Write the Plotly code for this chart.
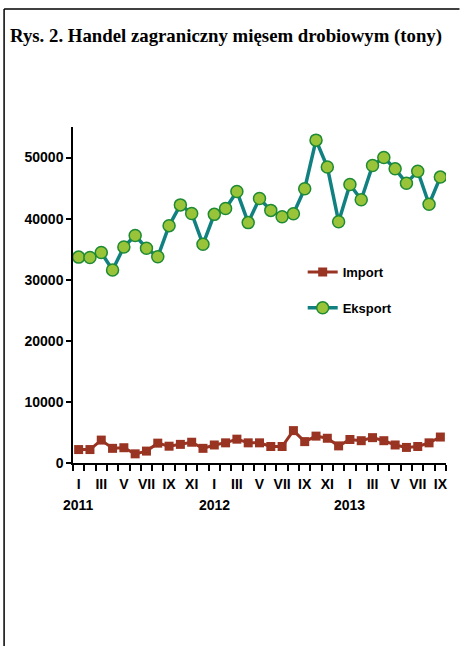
import plotly.graph_objects as go

months = ["I", "II", "III", "IV", "V", "VI", "VII", "VIII", "IX", "X", "XI", "XII"] * 2 + \
         ["I", "II", "III", "IV", "V", "VI", "VII", "VIII", "IX"]
years = ["2011", "2012", "2013"]
year_start_index = [0, 12, 24]

import_t = [2200, 2200, 3750, 2400, 2500, 1500, 1950, 3250, 2750, 3050, 3400, 2400,
            2950, 3300, 3900, 3300, 3300, 2700, 2700, 5300, 3500, 4400, 4050, 2800,
            3850, 3650, 4150, 3650, 2950, 2550, 2700, 3300, 4250]
export_t = [33700, 33650, 34450, 31600, 35350, 37250, 35150, 33750, 38850, 42250, 40850, 35800,
            40700, 41650, 44450, 39350, 43300, 41350, 40300, 40800, 44900, 52850, 48450, 39500,
            45600, 43100, 48700, 50000, 48150, 45800, 47750, 42350, 46800]

x = list(range(len(export_t)))

fig = go.Figure()
fig.add_trace(go.Scatter(
    x=x, y=import_t, name="Import", mode="lines+markers",
    line=dict(color="#993322", width=3),
    marker=dict(symbol="square", size=9, color="#993322"),
    legendgroup="a",
))
fig.add_trace(go.Scatter(
    x=x, y=export_t, name="Eksport", mode="lines+markers",
    line=dict(color="#118080", width=3.5),
    marker=dict(symbol="circle", size=12, color="#99C43A", line=dict(color="#1E8A34", width=1.5)),
    legendgroup="b",
))

L, R, T, B = 73, 446.5, 127, 463
W, H = 460, 646

def px(xp):
    return (xp - L) / (R - L)

def py(yp):
    return (B - yp) / (B - T)

FAM = "Liberation Sans, Arial, sans-serif"
axis_font = dict(family=FAM, size=14, color="black", weight="bold")

fig.update_layout(
    width=W, height=H,
    margin=dict(l=L, r=W - R, t=T, b=H - B, pad=0),
    paper_bgcolor="white", plot_bgcolor="white",
    showlegend=True,
    legend=dict(x=px(303), y=py(257), xanchor="left", yanchor="top",
                font=dict(family=FAM, size=13, color="black", weight="bold"),
                tracegroupgap=16, bgcolor="rgba(0,0,0,0)", traceorder="grouped"),
    xaxis=dict(range=[-0.5, len(x) - 0.5], showgrid=False, zeroline=False,
               showline=True, linecolor="black", linewidth=1.5,
               tickmode="array", tickvals=x[::2], ticktext=months[::2],
               ticks="outside", ticklen=7, tickcolor="rgba(0,0,0,0)", tickfont=axis_font,
               minor=dict(tickmode="linear", tick0=-0.5, dtick=1, ticks="outside",
                          ticklen=6, tickwidth=1.5, tickcolor="black", showgrid=False)),
    yaxis=dict(range=[0, 55000], showgrid=False, zeroline=False,
               showline=True, linecolor="black", linewidth=1.5,
               tickmode="linear", tick0=0, dtick=10000,
               ticks="outside", ticklen=5, tickwidth=1.5, tickcolor="black",
               tickfont=axis_font, tickformat="d"),
)

annotations = [dict(text="<b>Rys. 2. Handel zagraniczny mięsem drobiowym (tony)</b>",
                    xref="paper", yref="paper", x=px(8), y=py(36), xanchor="left", yanchor="middle",
                    showarrow=False,
                    font=dict(family="Liberation Serif, Times New Roman, serif", size=18.8, color="black"))]
for yr, idx in zip(years, year_start_index):
    annotations.append(dict(text=yr, xref="x", yref="paper", x=x[idx], y=py(505),
                            xanchor="center", yanchor="middle", showarrow=False, font=axis_font))
fig.update_layout(annotations=annotations)

fig.update_layout(shapes=[
    dict(type="line", xref="paper", yref="paper", x0=px(4), x1=px(460), y0=py(9), y1=py(9),
         line=dict(color="black", width=1.5)),
    dict(type="line", xref="paper", yref="paper", x0=px(4), x1=px(4), y0=py(9), y1=py(646),
         line=dict(color="black", width=1.5)),
])

fig.write_html("out.html", include_plotlyjs=True, config={"displayModeBar": False},
               post_script="document.body.style.margin='0';document.body.style.overflow='hidden';")
